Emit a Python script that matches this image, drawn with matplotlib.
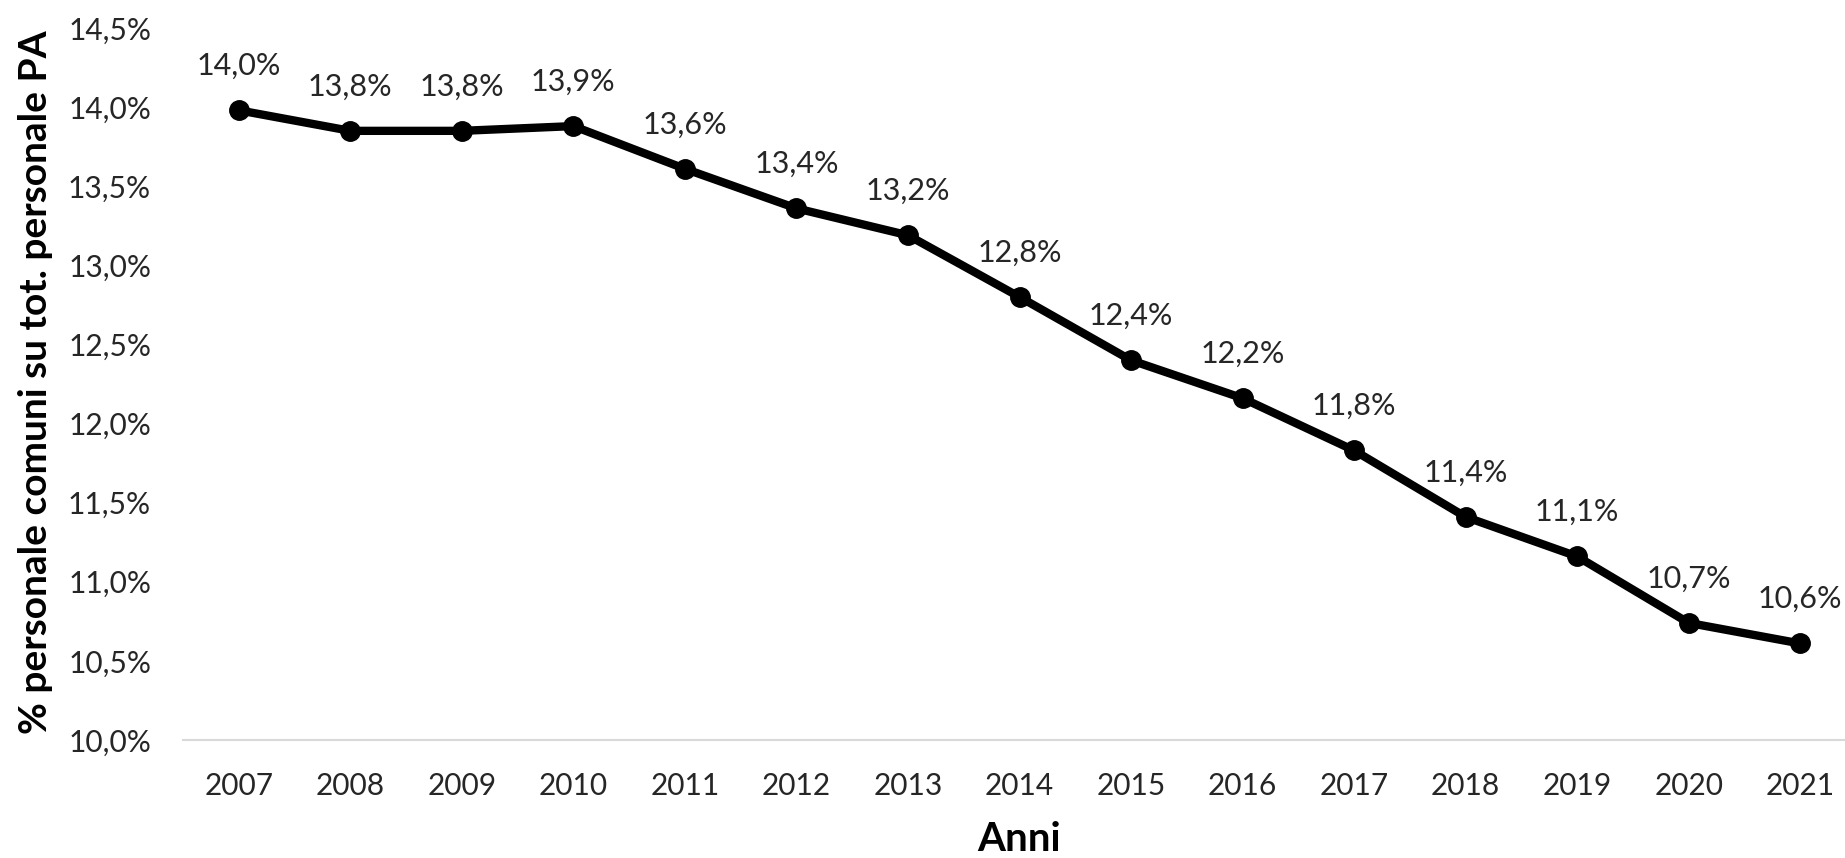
import numpy as np
import matplotlib
matplotlib.use("Agg")
from matplotlib import pyplot as plt
from matplotlib.ticker import FuncFormatter, MultipleLocator

# Data
years  = ["2007", "2008", "2009", "2010", "2011", "2012", "2013", "2014",
          "2015", "2016", "2017", "2018", "2019", "2020", "2021"]
shares = [13.98, 13.85, 13.85, 13.88, 13.61, 13.36, 13.19, 12.80,
          12.40, 12.16, 11.83, 11.41, 11.16, 10.74, 10.61]
labels = ["14,0%", "13,8%", "13,8%", "13,9%", "13,6%", "13,4%", "13,2%", "12,8%",
          "12,4%", "12,2%", "11,8%", "11,4%", "11,1%", "10,7%", "10,6%"]

plt.rcParams['font.family'] = ['Lato', 'DejaVu Sans']
textCol = '#262626'

W, H = 1845, 858
fig = plt.figure(figsize=(W/100, H/100), dpi=100)
# axes box in pixels: left 183, right 1856, bottom 740, top 28
ax = fig.add_axes([183/W, (H-740)/H, (1856-183)/W, (740-28)/H])

xV = np.arange(len(years))
ax.plot(xV, shares, color='black', lw=6, marker='o', markersize=14,
        solid_joinstyle='round', clip_on=False, zorder=3)

for x, y, lab in zip(xV, shares, labels):
    ax.annotate(lab, (x, y), xytext=(0, 32), textcoords='offset points',
                ha='center', va='center', fontsize=22, color=textCol)

ax.set_xlim(-0.5, len(years) - 0.5)
ax.set_ylim(10.0, 14.5)
ax.yaxis.set_major_locator(MultipleLocator(0.5))
ax.yaxis.set_major_formatter(FuncFormatter(lambda v, p: "{:.1f}%".format(v).replace(".", ",")))
ax.set_xticks(xV)
ax.set_xticklabels(years)

for s in ['top', 'right', 'left']:
    ax.spines[s].set_visible(False)
ax.spines['bottom'].set_color('#d9d9d9')
ax.spines['bottom'].set_linewidth(1.5)
ax.tick_params(axis='both', length=0, labelsize=21.5, labelcolor=textCol)
ax.tick_params(axis='y', pad=23)
ax.tick_params(axis='x', pad=23)

ax.set_xlabel("Anni", fontsize=29, fontweight='bold', color='black')
ax.xaxis.set_label_coords(0.5, -0.140)
ax.xaxis.label.set_va('center')
ax.set_ylabel("% personale comuni su tot. personale PA", fontsize=28,
              fontweight='bold', color='black')
ax.yaxis.set_label_coords((36-183)/1673, (740-382)/712)
ax.yaxis.label.set_va('center')

fig.savefig("out.png", dpi=100)
